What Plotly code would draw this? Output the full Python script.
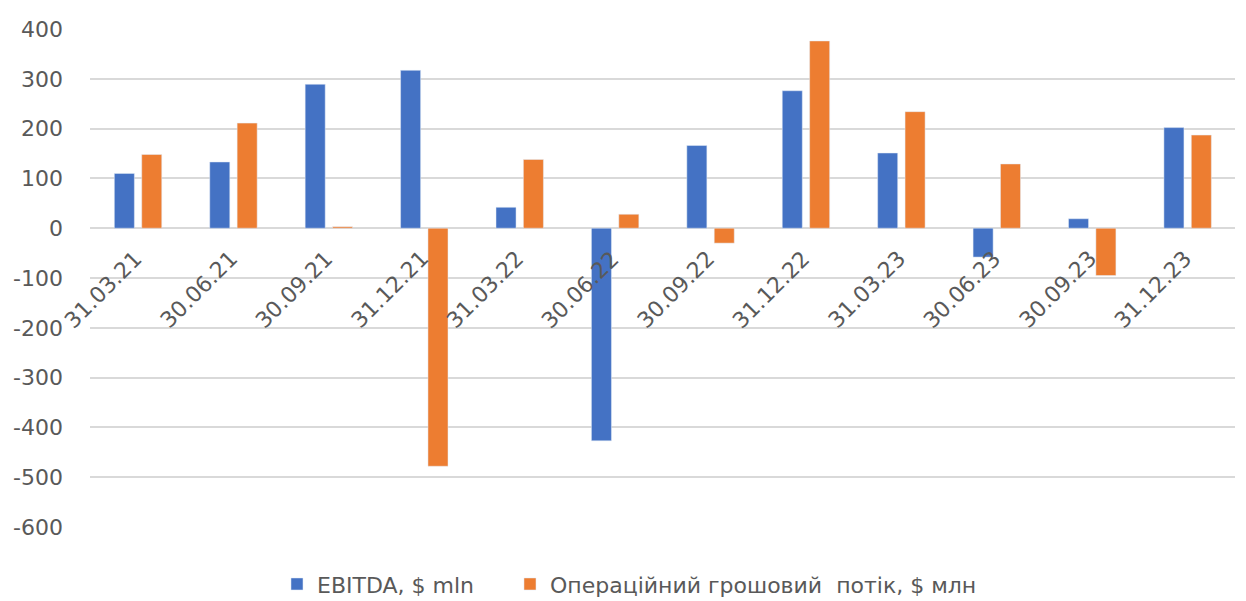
import plotly.graph_objects as go

# Quarter-end dates
quarters = ["31.03.21", "30.06.21", "30.09.21", "31.12.21",
            "31.03.22", "30.06.22", "30.09.22", "31.12.22",
            "31.03.23", "30.06.23", "30.09.23", "31.12.23"]

# EBITDA, $ mln
ebitda = [110, 133, 289, 317, 42, -427, 166, 276, 151, -58, 19, 202]

# Operating cash flow, $ mln
op_cash_flow = [148, 211, 3, -478, 138, 28, -30, 376, 234, 129, -95, 187]

y_ticks = [400, 300, 200, 100, 0, -100, -200, -300, -400, -500, -600]
y_tick_text = ["400", "300", "200", "100", "0", "-100", "-200",
               "-300", "-400", "-500", "-600"]

BLUE = "#4472C4"
ORANGE = "#ED7D31"
TEXT = "#595959"
GRID = "#D9D9D9"
FONT = "DejaVu Sans, Liberation Sans, sans-serif"
SIZE = 22

fig = go.Figure()
fig.add_trace(go.Bar(x=quarters, y=ebitda, name="EBITDA, $ mln",
                     marker_color=BLUE, width=0.21, offset=-0.245,
                     legend="legend"))
fig.add_trace(go.Bar(x=quarters, y=op_cash_flow,
                     name="Операційний грошовий\u00a0 потік, $ млн",
                     marker_color=ORANGE, width=0.21, offset=0.042,
                     legend="legend2"))

# Category labels sit along the zero line, slanted
for q in quarters:
    fig.add_annotation(x=q, y=0, xref="x", yref="y", text=q,
                       showarrow=False, textangle=-45,
                       xanchor="right", yanchor="top",
                       xshift=12, yshift=-15,
                       font=dict(family=FONT, size=SIZE, color=TEXT))

legend_common = dict(orientation="h", yref="container", y=0.028,
                     yanchor="middle", xref="container", xanchor="left",
                     bgcolor="rgba(0,0,0,0)",
                     font=dict(family=FONT, size=SIZE, color=TEXT))

fig.update_layout(
    width=1246, height=601,
    margin=dict(l=90, r=11, t=29, b=74),
    paper_bgcolor="white", plot_bgcolor="white",
    barmode="overlay",
    font=dict(family=FONT, size=SIZE, color=TEXT),
    showlegend=True,
    legend=dict(x=0.2223, **legend_common),
    legend2=dict(x=0.4093, **legend_common),
    xaxis=dict(range=[-0.5, len(quarters) - 0.5], showticklabels=False,
               showgrid=False, zeroline=False, showline=False, ticks=""),
    yaxis=dict(range=[-600, 400], tickvals=y_ticks, ticktext=y_tick_text,
               showgrid=True, gridcolor=GRID, gridwidth=1.5,
               zeroline=True, zerolinecolor=GRID, zerolinewidth=1.5,
               showline=False, ticks="", ticklabelstandoff=26,
               tickfont=dict(family=FONT, size=SIZE, color=TEXT)),
)

fig.write_html("out.html")
